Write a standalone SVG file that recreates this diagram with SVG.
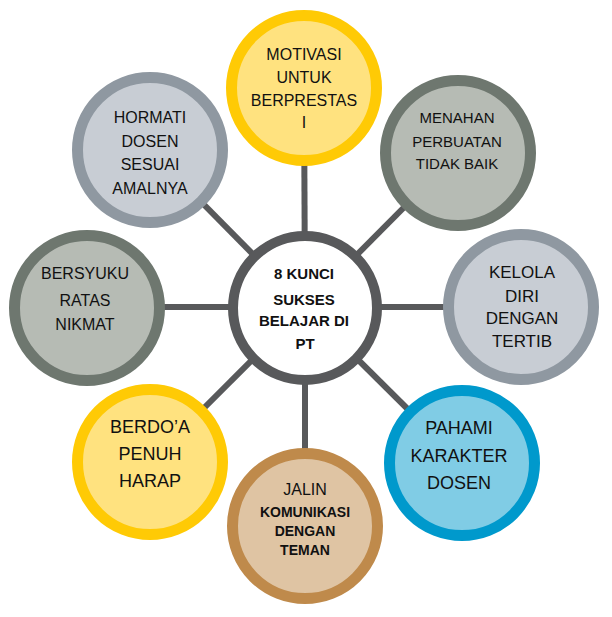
<svg xmlns="http://www.w3.org/2000/svg" width="612" height="617" viewBox="0 0 612 617">
<style>
.conn{stroke:#58595B;stroke-width:6;fill:none}
.ring{stroke-width:11}
.yel{fill:#FFE27F;stroke:#FFCA05}
.grn{fill:#B6BBB4;stroke:#6E776F}
.gry{fill:#C8CDD4;stroke:#8F98A1}
.blu{fill:#80CCE5;stroke:#0099CC}
.brn{fill:#DFC4A3;stroke:#BF8A4B}
.ctr{fill:#FFFFFF;stroke:#58595B;stroke-width:10}
text{font-family:"Liberation Sans",Arial,sans-serif;fill:#111;text-anchor:middle}
.b{font-weight:bold}
</style>
<rect width="612" height="617" fill="#fff"/>
<g id="connectors">
<line class="conn" x1="305" y1="307" x2="304" y2="88"/>
<line class="conn" x1="305" y1="307" x2="458" y2="153"/>
<line class="conn" x1="305" y1="307" x2="520" y2="307"/>
<line class="conn" x1="305" y1="307" x2="462" y2="463"/>
<line class="conn" x1="305" y1="307" x2="305" y2="526"/>
<line class="conn" x1="305" y1="307" x2="150" y2="462"/>
<line class="conn" x1="305" y1="307" x2="87" y2="307"/>
<line class="conn" x1="305" y1="307" x2="150" y2="150"/>
</g>
<g id="motivasi">
<circle class="ring yel" cx="304" cy="88" r="72.5"/>
<text font-size="16"><tspan x="304" y="60">MOTIVASI</tspan><tspan x="304" y="83">UNTUK</tspan><tspan x="304" y="106">BERPRESTAS</tspan><tspan x="304" y="128">I</tspan></text>
</g>
<g id="menahan">
<circle class="ring grn" cx="458" cy="153" r="72.5"/>
<text font-size="15"><tspan x="457" y="123">MENAHAN</tspan><tspan x="457" y="147">PERBUATAN</tspan><tspan x="457" y="169">TIDAK BAIK</tspan></text>
</g>
<g id="kelola">
<circle class="ring gry" cx="521" cy="307" r="72.5"/>
<text font-size="17"><tspan x="522" y="278">KELOLA</tspan><tspan x="522" y="302">DIRI</tspan><tspan x="522" y="324">DENGAN</tspan><tspan x="522" y="347">TERTIB</tspan></text>
</g>
<g id="pahami">
<circle class="ring blu" cx="462" cy="463" r="72.5"/>
<text font-size="18"><tspan x="459" y="434">PAHAMI</tspan><tspan x="459" y="462">KARAKTER</tspan><tspan x="459" y="489">DOSEN</tspan></text>
</g>
<g id="jalin">
<circle class="ring brn" cx="305" cy="526" r="72.5"/>
<text font-size="16"><tspan x="305" y="495">JALIN</tspan></text>
<text class="b" font-size="14"><tspan x="305" y="517">KOMUNIKASI</tspan><tspan x="305" y="536">DENGAN</tspan><tspan x="305" y="555">TEMAN</tspan></text>
</g>
<g id="berdoa">
<circle class="ring yel" cx="150" cy="462" r="72.5"/>
<text font-size="18"><tspan x="150" y="433">BERDO’A</tspan><tspan x="150" y="460">PENUH</tspan><tspan x="150" y="487">HARAP</tspan></text>
</g>
<g id="bersyuku">
<circle class="ring grn" cx="87" cy="308" r="72.5"/>
<text font-size="16"><tspan x="85" y="279">BERSYUKU</tspan><tspan x="85" y="306">RATAS</tspan><tspan x="85" y="330">NIKMAT</tspan></text>
</g>
<g id="hormati">
<circle class="ring gry" cx="150" cy="150" r="72.5"/>
<text font-size="16"><tspan x="150" y="123">HORMATI</tspan><tspan x="150" y="147">DOSEN</tspan><tspan x="150" y="170">SESUAI</tspan><tspan x="150" y="194">AMALNYA</tspan></text>
</g>
<g id="center">
<circle class="ctr" cx="305" cy="308" r="72"/>
<text class="b" font-size="15"><tspan x="304" y="279">8 KUNCI</tspan><tspan x="304" y="305">SUKSES</tspan><tspan x="304" y="326">BELAJAR DI</tspan><tspan x="305" y="349">PT</tspan></text>
</g>
</svg>
